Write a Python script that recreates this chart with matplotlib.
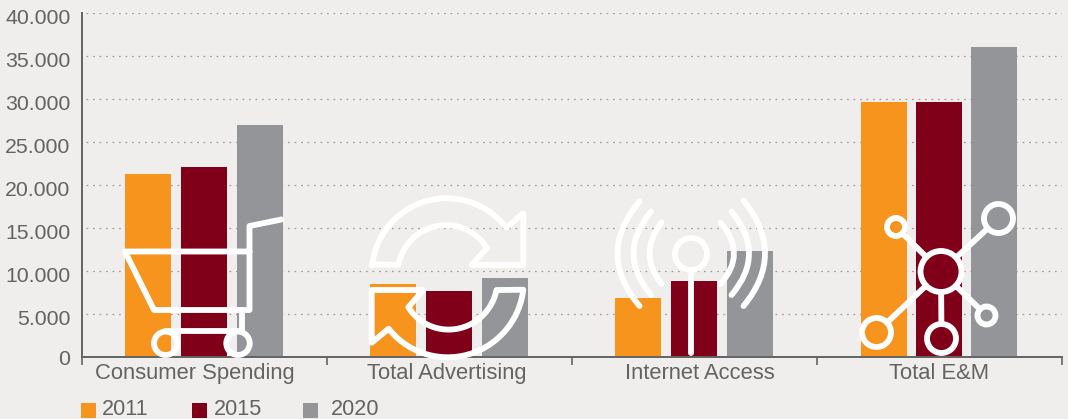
# E&M revenue bars with white line icons on top

import numpy as np
import matplotlib
matplotlib.use('Agg')
import matplotlib.pyplot as plt
from matplotlib.path import Path
from matplotlib.patches import PathPatch, Circle, Rectangle
from matplotlib.transforms import ScaledTranslation

categories = ['Consumer Spending', 'Total Advertising', 'Internet Access', 'Total E&M']
years = ['2011', '2015', '2020']
values_2011 = [21300, 8500, 6860, 29650]
values_2015 = [22100, 7670, 8840, 29650]
values_2020 = [27000, 9220, 12330, 36050]
y_ticks = [0, 5000, 10000, 15000, 20000, 25000, 30000, 35000, 40000]
y_labels = ['0', '5.000', '10.000', '15.000', '20.000', '25.000', '30.000', '35.000', '40.000']
colors = ['#f7941e', '#7f0018', '#939598']

BG = '#efeeec'
TEXT = '#636363'
ICON_LW = 4.2

plt.rcParams['font.family'] = ['Liberation Sans', 'DejaVu Sans']

fig = plt.figure(figsize=(10.68, 4.19), dpi=100, facecolor=BG)
ax = fig.add_axes([81.5 / 1068, 62 / 419, 980 / 1068, 344 / 419], facecolor=BG)

x = np.arange(len(categories))
gaps = np.array([0.229, 0.229, 0.227, 0.224])
series = [values_2011, values_2015, values_2020]
for i, vals in enumerate(series):
    ax.bar(x + (i - 1) * gaps, vals, width=0.188, color=colors[i], zorder=2)

ax.set_xlim(-0.5, 3.5)
ax.set_ylim(0, 40000)
ax.set_yticks(y_ticks)
ax.set_yticklabels(y_labels, fontsize=15.3, color=TEXT)
ax.set_xticks(x)
ax.set_xticklabels(categories, fontsize=15.8, color=TEXT)
ax.set_xticks(np.arange(-0.5, 4), minor=True)
ax.tick_params(axis='x', which='major', length=0, pad=4)
ax.tick_params(axis='x', which='minor', length=5.5, width=1.2, color=TEXT)
ax.tick_params(axis='y', length=0, pad=8)
ax.grid(axis='y', color='#a89a8c', linewidth=0.9, linestyle=(2, (1.4, 3.8)), zorder=1)
ax.set_axisbelow(True)
for side in ['top', 'right']:
    ax.spines[side].set_visible(False)
for side in ['left', 'bottom']:
    ax.spines[side].set_color(TEXT)
    ax.spines[side].set_linewidth(1.4)

# the source labels sit a little off their ticks
label_shift = [-9.5, -2, 6, 0]
for lab, dx in zip(ax.get_xticklabels(), label_shift):
    lab.set_transform(lab.get_transform() + ScaledTranslation(dx / 100, 0, fig.dpi_scale_trans))
for lab, tick in zip(ax.get_yticklabels(), y_ticks):
    dy = -3 if tick > 0 else 0
    lab.set_transform(lab.get_transform() + ScaledTranslation(0, dy / 100, fig.dpi_scale_trans))

# overlay in picture pixels for icons and legend
ov = fig.add_axes([0, 0, 1, 1])
ov.set_xlim(0, 1068)
ov.set_ylim(419, 0)
ov.axis('off')
ov.patch.set_alpha(0)


def line(points, closed=False):
    pts = list(points)
    codes = [Path.MOVETO] + [Path.LINETO] * (len(pts) - 1)
    if closed:
        pts.append(pts[0])
        codes.append(Path.CLOSEPOLY)
    ov.add_patch(PathPatch(Path(pts, codes), fill=False, edgecolor='white', lw=ICON_LW,
                           joinstyle='round', capstyle='round'))


def ring(cx, cy, r):
    ov.add_patch(Circle((cx, cy), r, fill=False, edgecolor='white', lw=ICON_LW))


def arc(cx, cy, r0, r1, a0, a1):
    t = np.radians(np.linspace(a0, a1, 40))
    r = np.linspace(r0, r1, 40)
    return list(zip(cx + r * np.cos(t), cy + r * np.sin(t)))


def curve(a, mid, b):
    ctrl = (2 * mid[0] - (a[0] + b[0]) / 2, 2 * mid[1] - (a[1] + b[1]) / 2)
    ov.add_patch(PathPatch(Path([a, ctrl, b], [Path.MOVETO, Path.CURVE3, Path.CURVE3]),
                           fill=False, edgecolor='white', lw=ICON_LW, capstyle='round'))


# cart
line([(281.5, 219.5), (249.5, 226), (249.5, 310), (154, 310), (125, 251.5), (249.5, 251.5)])
line([(241.5, 310), (241.5, 331)])
line([(165, 331), (238, 331)])
ring(165.7, 343.3, 11.7)
ring(238, 343.3, 11.7)

# refresh arrows
top_out = arc(446.7, 273.3, 75, 75, 186, 322.5)
top_in = arc(446.7, 273.3, 47.5, 49, 328, 190)
line(top_out + [(523.3, 213.3), (523.3, 265), (471.7, 265)] + top_in + [(371.7, 264.5)], closed=True)
bot_out = arc(446.7, 281.7, 77, 74.7, 6, 141)
bot_in = arc(446.7, 281.7, 46, 50.5, 146, 9.5)
line(bot_out + [(371.7, 342.7), (371.7, 290), (423.3, 290), (408.3, 307.3)] + bot_in, closed=True)

# antenna
ring(691, 254, 16)
line([(691, 270), (691, 352.5)])
curve((639.5, 201.5), (617.5, 253.5), (639.5, 306))
curve((651, 211.5), (633.5, 253.5), (651, 295))
curve((661.5, 222.5), (649.5, 253.5), (661.5, 284))
curve((743.5, 200.5), (765, 253.5), (743.5, 306))
curve((731.5, 211.5), (749, 253.5), (731.5, 295))
curve((720.5, 222.5), (734, 253.5), (720.5, 284))

# network
hub = (941, 271.5)
nodes = [((896, 227), 9), ((998.5, 218.5), 14.5), ((876.5, 332.5), 14.5), ((941.5, 338.5), 14.5), ((986.5, 315.5), 9)]
ring(hub[0], hub[1], 20.5)
for (cx, cy), r in nodes:
    ring(cx, cy, r)
    d = np.array([cx - hub[0], cy - hub[1]])
    d = d / np.hypot(*d)
    line([(hub[0] + d[0] * 20.5, hub[1] + d[1] * 20.5), (cx - d[0] * r, cy - d[1] * r)])

# legend
legend_boxes = [81, 192, 303]
legend_text = [102, 214, 331]
for i, year in enumerate(years):
    ov.add_patch(Rectangle((legend_boxes[i], 402.5), 15, 15.5, color=colors[i], lw=0))
    ov.text(legend_text[i], 409.5, year, fontsize=15.6, color=TEXT, va='center', ha='left')

plt.savefig('out.png', dpi=100, facecolor=BG)
